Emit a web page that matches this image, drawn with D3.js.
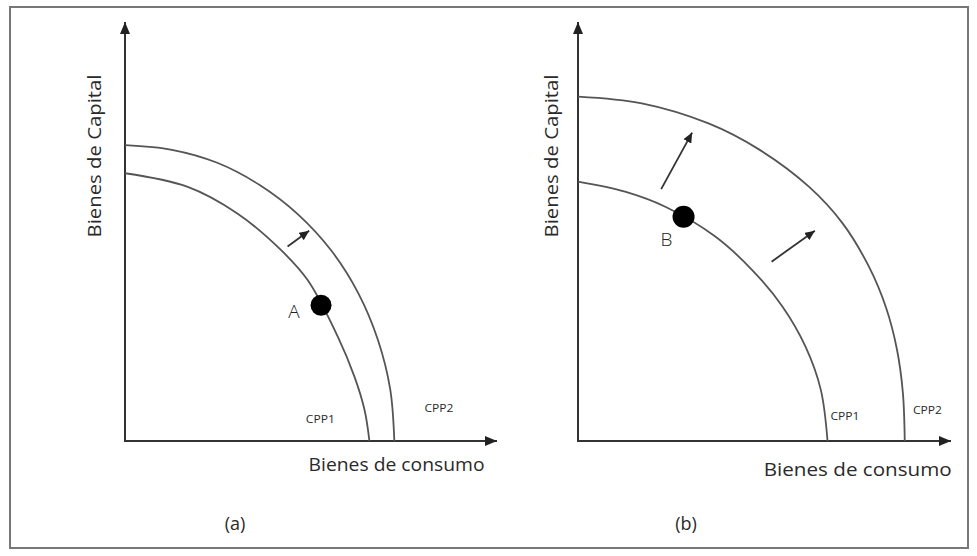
<!DOCTYPE html>
<html>
<head>
<meta charset="utf-8">
<script src="https://cdn.jsdelivr.net/npm/d3@7"></script>
<style>
  body { margin: 0; background: #fff; }
  svg text { font-family: "Open Sans", sans-serif; fill: #2a2a2a; }
</style>
</head>
<body>
<div id="canvas"></div>
<script>
// curve points, in axis units (0..100 on each axis)
const cppA1 = [[0,63.9],[16.7,60.7],[30.2,54.3],[41.9,45.6],[49.1,38.4],[57.2,24.9],[61.7,15.3],[64.4,7.4],[65.7,0]];
const cppA2 = [[0,70.6],[12.6,69.5],[24.8,66.4],[36.2,61.1],[46.5,54.1],[55.5,45.4],[62.7,35.3],[68.0,24.1],[71.3,12.3],[72.4,0]];
const cppB1 = [[0,61.9],[12.6,59.5],[23.4,55.9],[36.8,48.8],[46.7,40.8],[54.8,32.1],[61.0,22.5],[65.1,12.2],[66.9,0]];
const cppB2 = [[0,82.2],[17.1,80.6],[35.0,75.8],[48.5,69.6],[61.9,60.7],[70.9,52.0],[78.0,41.6],[82.6,31.8],[85.5,21.9],[87.1,11.5],[87.6,0]];
const pointA = [52.7, 32.4];
const pointB = [28.3, 53.5];
const arrowsA = [[[43.7,46.4],[49.5,50.2]]];
const arrowsB = [[[22.3,60.1],[30.6,73.6]], [[51.9,42.8],[63.5,50.2]]];
const yTitle = 'Bienes de Capital';
const xTitle = 'Bienes de consumo';

const W = 977, H = 556;

const svg = d3.select('#canvas')
    .append('svg')
    .attr('width', W)
    .attr('height', H);

const defs = svg.append('defs');
defs.append('marker')
    .attr('id', 'axisHead')
    .attr('viewBox', '0 0 12 10')
    .attr('refX', 12).attr('refY', 5)
    .attr('markerWidth', 12).attr('markerHeight', 10)
    .attr('markerUnits', 'userSpaceOnUse')
    .attr('orient', 'auto')
    .append('path').attr('d', 'M0,0 L12,5 L0,10 Z').attr('fill', '#222');
defs.append('marker')
    .attr('id', 'smallHead')
    .attr('viewBox', '0 0 10 9')
    .attr('refX', 10).attr('refY', 4.5)
    .attr('markerWidth', 10).attr('markerHeight', 9)
    .attr('markerUnits', 'userSpaceOnUse')
    .attr('orient', 'auto')
    .append('path').attr('d', 'M0,0 L10,4.5 L0,9 Z').attr('fill', '#222');

// frame
svg.append('rect')
    .attr('x', 10).attr('y', 7)
    .attr('width', 958).attr('height', 541)
    .attr('fill', 'none')
    .attr('stroke', '#777')
    .attr('stroke-width', 2);

const panel = (cfg) => {
  const x = d3.scaleLinear().domain([0, 100]).range([cfg.x0, cfg.x1]);
  const y = d3.scaleLinear().domain([0, 100]).range([441, 22]);
  const g = svg.append('g');

  const line = d3.line()
      .x(d => x(d[0]))
      .y(d => y(d[1]))
      .curve(d3.curveCatmullRom.alpha(0.5));

  // axes
  g.append('line')
      .attr('x1', x(0)).attr('y1', y(0))
      .attr('x2', x(0)).attr('y2', y(100))
      .attr('stroke', '#333').attr('stroke-width', 2)
      .attr('marker-end', 'url(#axisHead)');
  g.append('line')
      .attr('x1', x(0) - 1).attr('y1', y(0))
      .attr('x2', x(100)).attr('y2', y(0))
      .attr('stroke', '#333').attr('stroke-width', 2)
      .attr('marker-end', 'url(#axisHead)');

  g.selectAll('path.cpp')
      .data(cfg.curves)
      .enter()
      .append('path')
      .attr('class', 'cpp')
      .attr('d', line)
      .attr('fill', 'none')
      .attr('stroke', '#555')
      .attr('stroke-width', 1.8);

  g.selectAll('line.shift')
      .data(cfg.arrows)
      .enter()
      .append('line')
      .attr('class', 'shift')
      .attr('x1', d => x(d[0][0])).attr('y1', d => y(d[0][1]))
      .attr('x2', d => x(d[1][0])).attr('y2', d => y(d[1][1]))
      .attr('stroke', '#333').attr('stroke-width', 1.8)
      .attr('marker-end', 'url(#smallHead)');

  g.append('circle')
      .attr('cx', x(cfg.point[0]))
      .attr('cy', y(cfg.point[1]))
      .attr('r', cfg.r)
      .attr('fill', '#000');

  g.append('text')
      .text(cfg.pointName)
      .attr('x', x(cfg.point[0]) + cfg.nameDx)
      .attr('y', y(cfg.point[1]) + cfg.nameDy)
      .attr('text-anchor', 'middle')
      .attr('font-size', 19)
      .attr('font-weight', 300)
      .style('fill', '#222');

  // curve names
  g.selectAll('text.cname')
      .data(cfg.names)
      .enter()
      .append('text')
      .attr('class', 'cname')
      .text(d => d[0])
      .attr('x', d => x(d[1]))
      .attr('y', d => y(d[2]))
      .attr('font-size', 11)
      .attr('textLength', 29)
      .attr('lengthAdjust', 'spacingAndGlyphs');

  g.append('text')
      .text(xTitle)
      .attr('x', x(cfg.xTitleAt))
      .attr('y', cfg.xTitleY)
      .attr('text-anchor', 'middle')
      .attr('font-size', 18)
      .attr('textLength', cfg.xTitleLen)
      .attr('lengthAdjust', 'spacingAndGlyphs');

  g.append('text')
      .text(yTitle)
      .attr('transform', `translate(${cfg.yTitleX}, 156) rotate(-90)`)
      .attr('text-anchor', 'middle')
      .attr('font-size', 18)
      .attr('textLength', 163)
      .attr('lengthAdjust', 'spacingAndGlyphs');

  g.append('text')
      .text(cfg.caption)
      .attr('x', cfg.captionX)
      .attr('y', 530)
      .attr('text-anchor', 'middle')
      .attr('font-size', 18);
};

panel({
  x0: 125, x1: 497,
  curves: [cppA1, cppA2],
  arrows: arrowsA,
  point: pointA, r: 10.5, pointName: 'A', nameDx: -27, nameDy: 13,
  names: [['CPP1', 48.6, 4.3], ['CPP2', 80.5, 6.9]],
  xTitleAt: 73, xTitleY: 471, xTitleLen: 176,
  yTitleX: 101,
  caption: '(a)', captionX: 235
});

panel({
  x0: 578, x1: 951,
  curves: [cppB1, cppB2],
  arrows: arrowsB,
  point: pointB, r: 11, pointName: 'B', nameDx: -17, nameDy: 29,
  names: [['CPP1', 67.7, 5.0], ['CPP2', 89.8, 6.4]],
  xTitleAt: 75, xTitleY: 476, xTitleLen: 188,
  yTitleX: 558,
  caption: '(b)', captionX: 686
});
</script>
</body>
</html>
